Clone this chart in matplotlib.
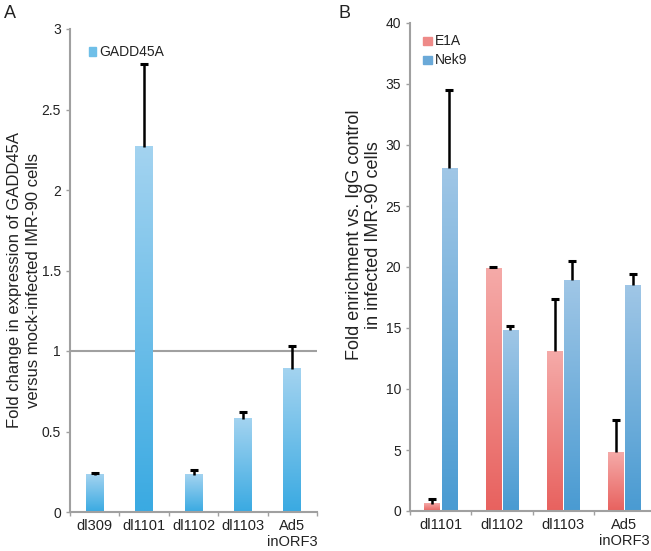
import matplotlib
matplotlib.use("Agg")
import matplotlib.pyplot as plt
import numpy as np
from matplotlib.colors import to_rgb

plt.rcParams['font.family'] = ['Liberation Sans', 'DejaVu Sans']

# Panel A data
a_categories = ["dl309", "dl1101", "dl1102", "dl1103", "Ad5\ninORF3"]
a_gadd45a = [0.23, 2.27, 0.23, 0.58, 0.89]
a_gadd45a_err = [0.01, 0.51, 0.03, 0.04, 0.14]

# Panel B data
b_categories = ["dl1101", "dl1102", "dl1103", "Ad5\ninORF3"]
b_e1a = [0.6, 19.9, 13.1, 4.8]
b_e1a_err = [0.4, 0.1, 4.3, 2.7]
b_nek9 = [28.1, 14.8, 18.9, 18.5]
b_nek9_err = [6.4, 0.4, 1.6, 0.9]

AXIS_GRAY = "#a0a0a0"
TXT = "#222222"

def gradient_bars(ax, bars, top, bottom):
    t = np.array(to_rgb(top)); b = np.array(to_rgb(bottom))
    n = 64
    f = np.linspace(0, 1, n)[:, None]
    img = (t[None, :] * (1 - f) + b[None, :] * f)[:, None, :]
    for bar in bars:
        x0 = bar.get_x(); w = bar.get_width(); h = bar.get_height()
        ax.imshow(img, extent=(x0, x0 + w, 0, h), aspect='auto',
                  origin='upper', zorder=bar.get_zorder(), interpolation='bilinear')
        bar.set_facecolor('none')

def up_errors(ax, x, y, err):
    x = np.asarray(x); y = np.asarray(y); e = np.asarray(err)
    ax.vlines(x, y, y + e, colors='black', lw=1.8, zorder=3)
    ax.plot(x, y + e, linestyle='none', marker='_', markersize=6,
            markeredgewidth=2.2, color='black', zorder=3)

def style_axes(ax):
    for s in ['top', 'right']:
        ax.spines[s].set_visible(False)
    for s in ['left', 'bottom']:
        ax.spines[s].set_color(AXIS_GRAY)
        ax.spines[s].set_linewidth(1.5)
    ax.tick_params(axis='y', colors=AXIS_GRAY, labelcolor=TXT, length=3, width=1, labelsize=10)
    ax.tick_params(axis='x', which='major', length=0, labelcolor=TXT, labelsize=10.5, pad=5)
    ax.tick_params(axis='x', which='minor', length=3, width=1, colors=AXIS_GRAY)

fig = plt.figure(figsize=(6.51, 5.51), dpi=100)

# Panel A
axA = fig.add_axes([70/651, 1 - 512/551, (317-70)/651, (512-29)/551])
xa = np.arange(len(a_categories))
axA.axhline(1, color=AXIS_GRAY, lw=1.5, zorder=1)
barsA = axA.bar(xa, a_gadd45a, width=0.36, zorder=2, edgecolor='none')
up_errors(axA, xa, a_gadd45a, a_gadd45a_err)
gradient_bars(axA, barsA, "#a3d3f0", "#3aaae2")
axA.set_xlim(-0.5, len(xa) - 0.5)
axA.set_ylim(0, 3)
axA.set_yticks([0, 0.5, 1, 1.5, 2, 2.5, 3])
axA.set_yticklabels(["0", "0.5", "1", "1.5", "2", "2.5", "3"])
axA.set_xticks(xa)
axA.set_xticklabels(a_categories)
axA.set_xticks(np.arange(-0.5, len(xa)), minor=True)
style_axes(axA)
fig.text(24/651, 1 - 280/551,
         "Fold change in expression of GADD45A\nversus mock-infected IMR-90 cells",
         rotation=90, ha='center', va='center', fontsize=12, color=TXT,
         multialignment='center', linespacing=1.35)
axA.add_patch(plt.Rectangle((0.075, 0.945), 0.032, 0.017, transform=axA.transAxes,
                            color="#6fbfe8", clip_on=False))
axA.text(0.12, 0.953, "GADD45A", transform=axA.transAxes, fontsize=10, va='center', color=TXT)

# Panel B
axB = fig.add_axes([410/651, 1 - 511/551, (655-410)/651, (511-23)/551])
xb = np.arange(len(b_categories))
w = 0.25
off = 0.14
barsE = axB.bar(xb - off, b_e1a, width=w, zorder=2, edgecolor='none')
barsN = axB.bar(xb + off, b_nek9, width=w, zorder=2, edgecolor='none')
up_errors(axB, xb - off, b_e1a, b_e1a_err)
up_errors(axB, xb + off, b_nek9, b_nek9_err)
gradient_bars(axB, barsE, "#f5aaa8", "#e8625f")
gradient_bars(axB, barsN, "#9fc6e6", "#4a9bd2")
axB.set_xlim(-0.5, len(xb) - 0.5)
axB.set_ylim(0, 40)
axB.set_yticks(np.arange(0, 41, 5))
axB.set_xticks(xb)
axB.set_xticklabels(b_categories)
axB.set_xticks(np.arange(-0.5, len(xb)), minor=True)
style_axes(axB)
fig.text(364/651, 1 - 235/551,
         "Fold enrichment vs. IgG control\nin infected IMR-90 cells",
         rotation=90, ha='center', va='center', fontsize=13, color=TXT,
         multialignment='center', linespacing=1.2)
axB.add_patch(plt.Rectangle((0.055, 0.955), 0.034, 0.017, transform=axB.transAxes,
                            color="#ee8a88", clip_on=False))
axB.text(0.1, 0.963, "E1A", transform=axB.transAxes, fontsize=10, va='center', color=TXT)
axB.add_patch(plt.Rectangle((0.055, 0.916), 0.034, 0.017, transform=axB.transAxes,
                            color="#6aa9d8", clip_on=False))
axB.text(0.1, 0.924, "Nek9", transform=axB.transAxes, fontsize=10, va='center', color=TXT)

fig.text(4/651, 1 - 13/551, "A", fontsize=13, va='center', color=TXT)
fig.text(338/651, 1 - 13/551, "B", fontsize=13, va='center', color=TXT)

fig.savefig("out.png", dpi=100)
